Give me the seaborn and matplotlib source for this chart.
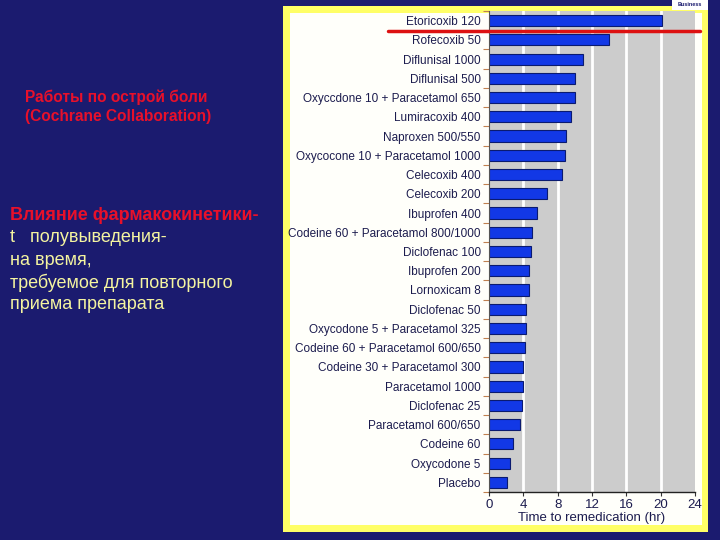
import matplotlib
matplotlib.use("Agg")
import matplotlib.pyplot as plt
import matplotlib.patches as mpatches
import matplotlib.lines as mlines
import numpy as np
import pandas as pd
import seaborn as sns

# Drugs (top to bottom) and median time to remedication, hours
drugs = [
    "Etoricoxib 120", "Rofecoxib 50", "Diflunisal 1000", "Diflunisal 500",
    "Oxyccdone 10 + Paracetamol 650", "Lumiracoxib 400", "Naproxen 500/550",
    "Oxycocone 10 + Paracetamol 1000", "Celecoxib 400", "Celecoxib 200",
    "Ibuprofen 400", "Codeine 60 + Paracetamol 800/1000", "Diclofenac 100",
    "Ibuprofen 200", "Lornoxicam 8", "Diclofenac 50",
    "Oxycodone 5 + Paracetamol 325", "Codeine 60 + Paracetamol 600/650",
    "Codeine 30 + Paracetamol 300", "Paracetamol 1000", "Diclofenac 25",
    "Paracetamol 600/650", "Codeine 60", "Oxycodone 5", "Placebo",
]
hours = [20.2, 14.0, 11.0, 10.0, 10.0, 9.5, 9.0, 8.8, 8.5, 6.7, 5.6, 5.0,
         4.9, 4.7, 4.7, 4.3, 4.3, 4.2, 4.0, 4.0, 3.9, 3.6, 2.8, 2.4, 2.1]
xticks = [0, 4, 8, 12, 16, 20, 24]

df = pd.DataFrame({"drug": drugs, "hours": hours})

sns.set_style("white")
plt.rcParams["font.family"] = ["Liberation Sans", "DejaVu Sans"]

navy = "#1b1b6f"
label_col = "#1c1c4e"

fig = plt.figure(figsize=(7.2, 5.4), dpi=100)
fig.patch.set_facecolor(navy)

# yellow frame with white panel behind the chart
fig.patches.append(mpatches.Rectangle((283 / 720, 1 - 532 / 540), 425 / 720, 526 / 540,
                                      transform=fig.transFigure, facecolor="#ffff66",
                                      edgecolor="none", zorder=-2))
fig.patches.append(mpatches.Rectangle((290 / 720, 1 - 525 / 540), 412 / 720, 512 / 540,
                                      transform=fig.transFigure, facecolor="#fffffa",
                                      edgecolor="none", zorder=-1))

ax = fig.add_axes([489 / 720, 1 - 492 / 540, 206 / 720, 481 / 540])
ax.set_zorder(2)
ax.set_facecolor("#cccccc")
sns.barplot(data=df, x="hours", y="drug", orient="h", color="#1238e6",
            saturation=1, width=0.58, edgecolor="#0a1a70", linewidth=0.8, ax=ax)

ax.set_xlim(0, 24)
ax.set_ylim(len(drugs) - 0.5, -0.5)
ax.set_xticks(xticks)
ax.set_xticklabels([str(t) for t in xticks], color=label_col, fontsize=9.5)
ax.set_xlabel("Time to remedication (hr)", color=label_col, fontsize=9.5, labelpad=1)
ax.set_ylabel("")
ax.tick_params(axis="y", length=0, labelsize=8.5, labelcolor=label_col, pad=6)
ax.tick_params(axis="x", length=3, width=0.8, color="#333333", pad=2, bottom=True)
ax.set_yticks(np.arange(len(drugs) + 1) - 0.5, minor=True)
ax.tick_params(axis="y", which="minor", length=4, width=0.8, color="#c08050", left=True)

for t in xticks[1:-1]:
    ax.axvline(t, color="white", lw=2, zorder=0)
ax.set_axisbelow(True)

for s in ["top", "right"]:
    ax.spines[s].set_visible(False)
ax.spines["left"].set_color("#555555")
ax.spines["left"].set_linewidth(0.8)
ax.spines["bottom"].set_color("#222222")
ax.spines["bottom"].set_linewidth(1)

# red highlight line under the top bar
fig.add_artist(mlines.Line2D([388 / 720, 700 / 720], [1 - 31 / 540, 1 - 31 / 540],
                             color="#dd1111", lw=2.5, transform=fig.transFigure,
                             zorder=5))

# left-hand slide text
fig.text(25 / 720, 1 - 97 / 540, "Работы по острой боли", color="#e8102a",
         fontsize=11.2, fontweight="bold", va="center")
fig.text(25 / 720, 1 - 117 / 540, "(Cochrane Collaboration)", color="#e8102a",
         fontsize=11.2, fontweight="bold", va="center")
fig.text(10 / 720, 1 - 216 / 540, "Влияние фармакокинетики-", color="#e8102a",
         fontsize=13, fontweight="bold", va="center")
yellow_lines = ["t   полувыведения-", "на время,", "требуемое для повторного",
                "приема препарата"]
for i, line in enumerate(yellow_lines):
    fig.text(10 / 720, 1 - (238 + i * 22.3) / 540, line, color="#f4f4a0",
             fontsize=13, va="center")

# corner logo fragment
fig.patches.append(mpatches.Rectangle((672 / 720, 1 - 10 / 540), 36 / 720, 10 / 540,
                                      transform=fig.transFigure, facecolor="white",
                                      edgecolor="none", zorder=1))
fig.text(690 / 720, 1 - 4 / 540, "Business", color=navy, fontsize=4,
         fontweight="bold", ha="center", va="center")

fig.savefig("out.png", dpi=100, facecolor=fig.get_facecolor())
